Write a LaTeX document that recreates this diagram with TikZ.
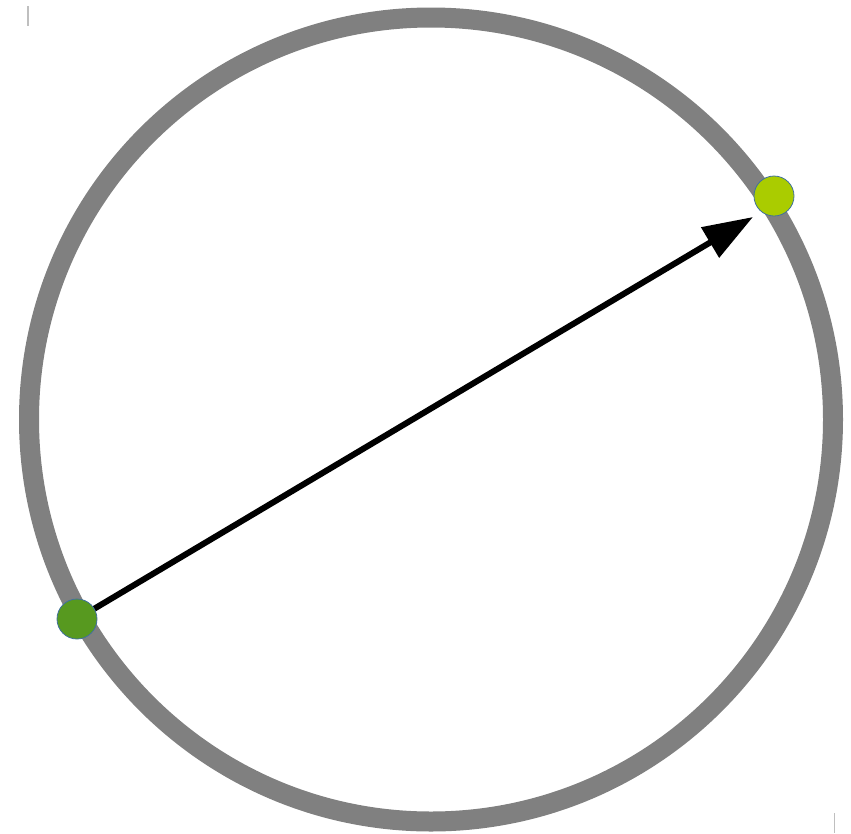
\documentclass[tikz,border=0pt]{standalone}
\usetikzlibrary{arrows.meta}
\definecolor{ringgray}{HTML}{808080}
\definecolor{dotgreen}{HTML}{57991F}
\definecolor{dotlime}{HTML}{AACC00}
\definecolor{dotedge}{HTML}{41719C}
\definecolor{markgray}{HTML}{BFBFBF}
\tikzset{
  ring/.style={draw=ringgray, line width=20pt},
  dot/.style={circle, inner sep=0pt, minimum size=40pt, draw=dotedge, line width=0.8pt},
  vecarrow/.style={line width=6pt, -{Triangle[length=50pt 0 0, width=34pt 0 0]}},
  cropmark/.style={draw=markgray, line width=1.3pt}
}
\begin{document}
\begin{tikzpicture}[x=1pt,y=-1pt]
\useasboundingbox (0,0) rectangle (851,833);
\node[circle, inner sep=0pt, minimum size=804pt, ring] (ring) at (431,419.5) {};
\coordinate (tip) at (753,217);
\draw[vecarrow] (77,619) coordinate (tail) -- (tip);
\node[dot, fill=dotgreen] (start) at (tail) {};
\node[dot, fill=dotlime] (end) at (774,196) {};
\coordinate (m1a) at (28,6); \coordinate (m1b) at (28,26);
\coordinate (m2a) at (834.5,813); \coordinate (m2b) at (834.5,833);
\draw[cropmark] (m1a) -- (m1b);
\draw[cropmark] (m2a) -- (m2b);
\end{tikzpicture}
\end{document}
